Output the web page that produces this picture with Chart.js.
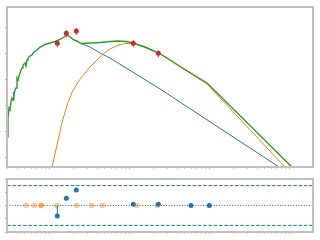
<!DOCTYPE html>
<html>
<head>
<meta charset="utf-8">
<script src="https://cdn.jsdelivr.net/npm/chart.js@4"></script>
<style>
html, body { margin: 0; padding: 0; background: #fff; }
#wrap { position: relative; width: 320px; height: 240px; overflow: hidden; }
canvas { position: absolute; left: 0; }
#sed { top: 0; }
#resid { top: 172px; }
</style>
</head>
<body>
<div id="wrap">
  <canvas id="sed" width="320" height="175"></canvas>
  <canvas id="resid" width="320" height="68"></canvas>
</div>
<script>
// SED fit, log-log, arbitrary units (no tick labels on the original)
const totalX = [0.2985, 0.307, 0.316, 0.3255, 0.335, 0.345, 0.355, 0.360, 0.365, 0.376, 0.387, 0.398, 0.410, 0.422, 0.447, 0.460, 0.473, 0.501, 0.516, 0.531, 0.546, 0.579, 0.613, 0.649, 0.708, 0.772, 0.891, 1.029, 1.189, 1.372, 1.540, 1.679, 1.830, 2.054, 2.305, 2.441, 2.512, 3.255, 4.341, 5.788, 7.29, 9.17, 11.22, 15.85, 24.41, 50.1, 94.4, 1372];
const totalY = [6.04, 32.5, 78.7, 65.9, 134, 191, 160, 325, 208, 388, 463, 1122, 940, 1340, 2280, 2720, 3550, 4240, 3250, 5520, 6590, 7870, 8610, 11220, 13400, 17470, 21800, 24900, 28400, 34000, 42400, 50600, 42400, 32500, 28400, 24900, 23800, 24900, 26000, 28400, 29700, 28400, 24900, 17470, 9820, 2380, 721, 0.2086];

const starX = [1.830, 2.054, 2.305, 2.512, 2.818, 3.255, 3.758, 4.341, 5.012, 5.788, 24.41, 750, 1372];
const starY = [42400, 32500, 28400, 23800, 20850, 17470, 13400, 10280, 8230, 6590, 424, 0.4236, 0.127];

const dustX = [1.044, 1.090, 1.1715, 1.259, 1.353, 1.454, 1.585, 1.728, 1.939, 2.175, 2.441, 2.818, 3.255, 3.758, 4.341, 5.012, 5.788, 6.683, 7.718, 9.17, 11.22, 15.85, 24.41, 50.1, 94.4, 1372];
const dustY = [0.2086, 0.4236, 1.122, 2.97, 7.87, 20.8, 55.5, 128, 312, 580, 1000, 1746, 2972, 4624, 7210, 10740, 14630, 18270, 21800, 23800, 23800, 16700, 9400, 2280, 659, 0.1027];

const obsX = [1.270, 1.645, 2.194, 11.32, 23.23];
const obsY = [24260, 58750, 72100, 24260, 10000];
const obsErr = [7300, 17600, 21600, 7300, 3000];

// residual panel
const residX = [1.270, 1.645, 2.194, 11.32, 23.23, 59.57, 100.9];
const residY = [-0.79, 0.54, 1.17, 0.09, 0.09, 0, 0];
const residErr = [0.15, 0.15, 0.15, 0.15, 0.15, 0.15, 0.15];
const limitX = [0.516, 0.655, 0.794, 0.80, 1.248, 2.219, 3.419, 4.637, 12.49, 22.58];
const limitY = [0, 0, 0, 0, 0, 0, 0, 0, 0, 0];
const refLevels = [1.5, 0, -1.5];

// axis ranges and ticks
const xMin = 0.2985, xMax = 1995;
const sedMin = 0.4236, sedMax = 603900;
const residMin = -2, residMax = 2;
const xDecades = [0.1, 1, 10, 100, 1000];
const sedTicks = [1, 10, 100, 1000, 10000, 100000];
const residTicks = [-2, -1, 0, 1, 2];

const BLUE = '#1f77b4', ORANGE = '#ff7f0e', GREEN = '#2ca02c', RED = '#d62728';
const SPINE = '#c0c0c0';

const pts = (xs, ys) => xs.map((x, i) => ({ x: x, y: ys[i] }));

function xTickList() {
  const out = [];
  xDecades.forEach(d => {
    for (let k = 1; k <= 9; k++) {
      const v = d * k;
      if (v >= xMin && v <= xMax) out.push({ value: v, major: k === 1 });
    }
  });
  return out;
}

const frame = {
  id: 'frame',
  afterDatasetsDraw(chart) {
    const a = chart.chartArea, ctx = chart.ctx;
    ctx.save();
    ctx.strokeStyle = SPINE;
    ctx.lineWidth = 2;
    ctx.strokeRect(a.left, a.top, a.right - a.left, a.bottom - a.top);
    ctx.restore();
  }
};

const errorBars = {
  id: 'errorBars',
  afterDatasetsDraw(chart) {
    const ctx = chart.ctx, ys = chart.scales.y;
    chart.data.datasets.forEach((ds, i) => {
      if (!ds.yErr) return;
      const meta = chart.getDatasetMeta(i);
      ctx.save();
      ctx.strokeStyle = ds.borderColor;
      ctx.lineWidth = 1;
      meta.data.forEach((p, j) => {
        const v = ds.data[j].y, e = ds.yErr[j];
        ctx.beginPath();
        ctx.moveTo(p.x, ys.getPixelForValue(v + e));
        ctx.lineTo(p.x, ys.getPixelForValue(Math.max(v - e, 1e-9)));
        ctx.stroke();
      });
      ctx.restore();
    });
  }
};

function tickGrid() {
  return {
    drawOnChartArea: false,
    drawTicks: true,
    tickLength: 2,
    tickWidth: 1,
    tickColor: ctx => (ctx.tick && ctx.tick.major ? '#a8a8a8' : '#c8c8c8')
  };
}

function xAxis(height) {
  return {
    type: 'logarithmic', min: xMin, max: xMax,
    ticks: { display: false },
    grid: tickGrid(),
    border: { display: false },
    afterBuildTicks: s => { s.ticks = xTickList(); },
    afterFit: s => { s.height = height; }
  };
}

const common = {
  responsive: false,
  animation: false,
  devicePixelRatio: 1,
  plugins: { legend: { display: false }, tooltip: { enabled: false } },
  elements: { line: { tension: 0 } }
};

new Chart(document.getElementById('sed'), {
  type: 'scatter',
  data: {
    datasets: [
      { data: pts(obsX, obsY), yErr: obsErr, borderColor: RED, backgroundColor: RED,
        pointRadius: 2.5, pointBorderWidth: 0, showLine: false },
      { data: pts(totalX, totalY), borderColor: GREEN, borderWidth: 1.4,
        pointRadius: 0, showLine: true },
      { data: pts(dustX, dustY), borderColor: ORANGE, borderWidth: 1,
        pointRadius: 0, showLine: true },
      { data: pts(starX, starY), borderColor: BLUE, borderWidth: 1,
        pointRadius: 0, showLine: true }
    ]
  },
  options: Object.assign({}, common, {
    layout: { padding: { top: 7, right: 7, left: 0, bottom: 0 } },
    scales: {
      x: xAxis(8),
      y: {
        type: 'logarithmic', min: sedMin, max: sedMax,
        ticks: { display: false },
        grid: tickGrid(),
        border: { display: false },
        afterBuildTicks: s => { s.ticks = sedTicks.map(v => ({ value: v, major: true })); },
        afterFit: s => { s.width = 7; }
      }
    }
  }),
  plugins: [frame, errorBars]
});

const refSets = refLevels.map(v => ({
  data: [{ x: xMin, y: v }, { x: xMax, y: v }],
  borderColor: BLUE,
  borderWidth: 1,
  borderDash: v === 0 ? [1, 1.65] : [3.7, 1.6],
  pointRadius: 0,
  showLine: true
}));

new Chart(document.getElementById('resid'), {
  type: 'scatter',
  data: {
    datasets: [
      { data: pts(residX, residY), yErr: residErr, borderColor: BLUE, backgroundColor: BLUE,
        pointRadius: 2.5, pointBorderWidth: 0, showLine: false },
      { data: pts(limitX, limitY), borderColor: 'rgba(255,127,14,0.45)',
        backgroundColor: 'rgba(255,127,14,0.45)', pointRadius: 2.8, pointBorderWidth: 0, showLine: false }
    ].concat(refSets)
  },
  options: Object.assign({}, common, {
    layout: { padding: { top: 7, right: 7, left: 0, bottom: 0 } },
    scales: {
      x: xAxis(8),
      y: {
        type: 'linear', min: residMin, max: residMax,
        ticks: { display: false },
        grid: tickGrid(),
        border: { display: false },
        afterBuildTicks: s => { s.ticks = residTicks.map(v => ({ value: v, major: true })); },
        afterFit: s => { s.width = 7; }
      }
    }
  }),
  plugins: [frame, errorBars]
});
</script>
</body>
</html>
